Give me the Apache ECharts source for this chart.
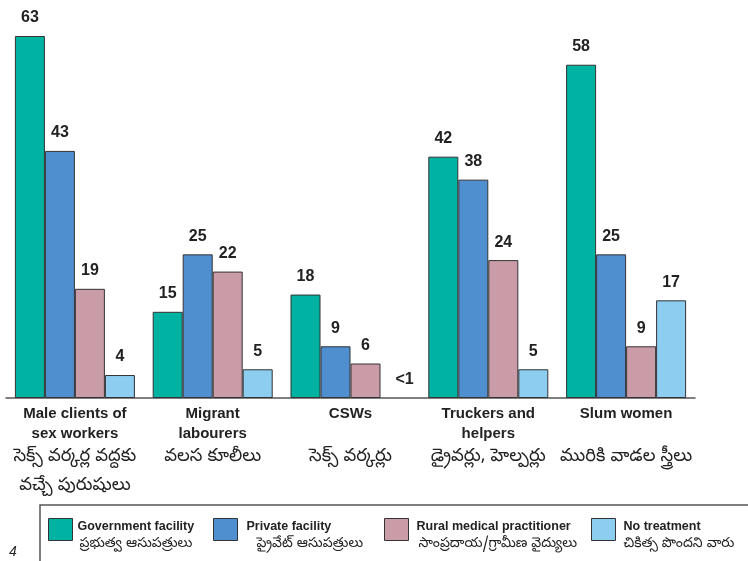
<!DOCTYPE html>
<html>
<head>
<meta charset="utf-8">
<script src="https://cdn.jsdelivr.net/npm/echarts@6/dist/echarts.min.js"></script>
<style>html,body{margin:0;padding:0;background:#fff;}#c{width:748px;height:561px;}</style>
</head>
<body>
<div id="c"></div>
<script>
const categoriesEn = ['Male clients of\nsex workers', 'Migrant\nlabourers', 'CSWs', 'Truckers and\nhelpers', 'Slum women'];
const categoriesTe = ['సెక్స్ వర్కర్ల వద్దకు\nవచ్చే పురుషులు', 'వలస కూలీలు', 'సెక్స్ వర్కర్లు', 'డ్రైవర్లు, హెల్పర్లు', 'మురికి వాడల స్త్రీలు'];
const government = [63, 15, 18, 42, 58];
const privateFac = [43, 25, 9, 38, 25];
const rural = [19, 22, 6, 24, 9];
const noTreatment = [4, 5, 0, 5, 17];
const noTreatmentLabels = ['4', '5', '<1', '5', '17'];
const seriesNamesEn = ['Government facility', 'Private facility', 'Rural medical practitioner', 'No treatment'];
const seriesNamesTe = ['ప్రభుత్వ ఆసుపత్రులు', 'ప్రైవేట్ ఆసుపత్రులు', 'సాంప్రదాయ/గ్రామీణ వైద్యులు', 'చికిత్స పొందని వారు'];

const colors = ['#00B2A2', '#4F8FD0', '#C99CA8', '#8DCDF0'];
const teluguFont = '"Noto Sans Telugu","Lohit Telugu","Pothana2000","Gautami","Noto Sans",sans-serif';
const enFont = '"Liberation Sans", Arial, sans-serif';

const chart = echarts.init(document.getElementById('c'), null, {renderer: 'canvas'});

function catLabel(value, idx) {
  const en = categoriesEn[idx].split('\n');
  while (en.length < 2) en.push(' ');
  const te = categoriesTe[idx].split('\n');
  return en.map(s => '{e|' + s + '}').join('\n') + '\n' + te.map(s => '{t|' + s + '}').join('\n');
}

const labelStyle = {show: true, position: 'top', distance: 10, fontFamily: enFont, fontWeight: 'bold', fontSize: 16, color: '#222'};
const itemBase = {borderColor: '#333', borderWidth: 1};

function makeSeries(i, arr, labels) {
  return {
    name: seriesNamesEn[i],
    type: 'bar',
    barWidth: 30,
    barGap: '0%',
    itemStyle: Object.assign({color: colors[i]}, itemBase),
    label: Object.assign({}, labelStyle, labels ? {formatter: p => labels[p.dataIndex]} : {}),
    data: arr.map((v, k) => {
      if (labels && labels[k] === '<1') {
        return {value: v, itemStyle: {borderWidth: 0, color: 'rgba(0,0,0,0)'}, label: {offset: [9, 0]}};
      }
      return v;
    })
  };
}

const legendLefts = [48, 213, 384, 591];
const legendPad = [0, 4, 3, 3];
const teStyle = (pad) => ({fontFamily: teluguFont, fontSize: 14, color: '#222', lineHeight: 20, padding: [0, 0, 0, pad]});
const legends = seriesNamesEn.map((n, i) => ({
  data: [n],
  left: legendLefts[i],
  top: 508,
  padding: 0,
  itemWidth: 24,
  itemHeight: 22,
  icon: 'rect',
  selectedMode: false,
  itemStyle: {borderColor: '#333', borderWidth: 1},
  formatter: () => '{s| }\n{e|' + seriesNamesEn[i] + '}\n{t' + i + '|' + seriesNamesTe[i] + '}',
  textStyle: {
    rich: {
      s: {fontSize: 6, lineHeight: 14},
      e: {fontFamily: enFont, fontWeight: 'bold', fontSize: 12.5, color: '#222', lineHeight: 17, padding: [0, 0, 0, legendPad[i]]},
      t0: teStyle(2),
      t1: teStyle(14),
      t2: teStyle(5),
      t3: teStyle(3)
    }
  }
}));

chart.setOption({
  animation: false,
  backgroundColor: '#fff',
  color: colors,
  grid: {left: 6, width: 689, top: 36, bottom: 163, containLabel: false},
  xAxis: {
    type: 'category',
    data: categoriesEn.map(s => s.replace('\n', ' ')),
    axisTick: {show: false},
    axisLine: {lineStyle: {color: '#555', width: 1.5}},
    axisLabel: {
      interval: 0,
      margin: 6,
      formatter: catLabel,
      rich: {
        e: {fontFamily: enFont, fontWeight: 'bold', fontSize: 15, color: '#222', lineHeight: 20, align: 'center'},
        t: {fontFamily: teluguFont, fontSize: 18, color: '#222', lineHeight: 29, align: 'center'}
      }
    }
  },
  yAxis: {type: 'value', min: 0, max: 63, show: false, splitLine: {show: false}},
  legend: legends,
  series: [
    makeSeries(0, government),
    makeSeries(1, privateFac),
    makeSeries(2, rural),
    makeSeries(3, noTreatment, noTreatmentLabels)
  ],
  graphic: [
    {type: 'rect', shape: {x: 40, y: 505, width: 720, height: 70}, style: {fill: 'none', stroke: '#555', lineWidth: 1.5}, z: -1},
    {type: 'text', left: 9, top: 545, style: {text: '4', font: 'italic 14px "Liberation Sans", Arial, sans-serif', fill: '#222'}}
  ]
});
</script>
</body>
</html>
